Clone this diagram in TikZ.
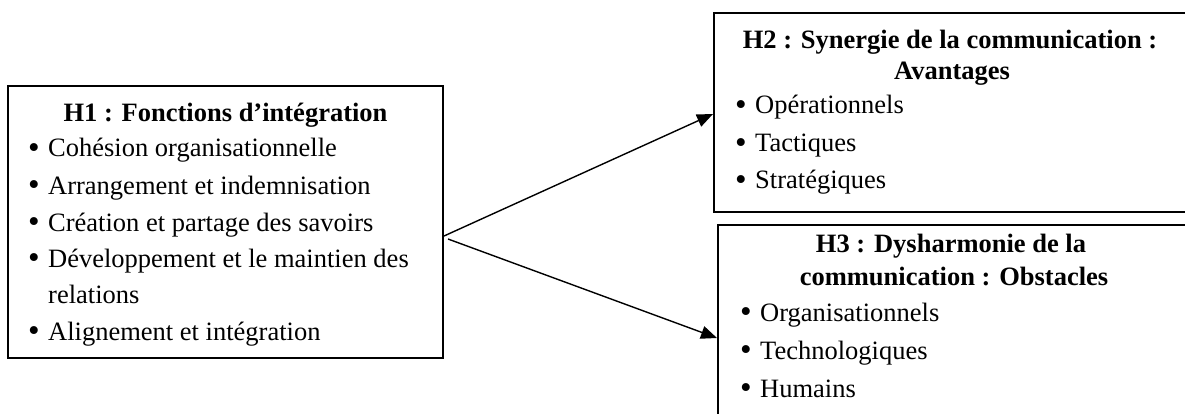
\documentclass[tikz,border=0pt]{standalone}
\usepackage{fontspec}
\setmainfont{Liberation Serif}
\usetikzlibrary{arrows.meta}
\tikzset{
  box/.style={draw=black, line width=2pt, inner sep=0pt, rectangle},
  ttl/.style={anchor=base, inner sep=0pt, font=\bfseries},
  itm/.style={anchor=base west, inner sep=0pt},
  arr/.style={line width=1.4pt, -{Triangle[length=16pt,width=13pt]}},
}
\newcommand{\bul}{\makebox[18pt][l]{\hspace{-2pt}\raisebox{-1.5pt}{\scalebox{1.25}{•}}}}
\begin{document}
\begin{tikzpicture}[x=1pt,y=-1pt]
\fontsize{26.5}{36.5}\selectfont
\useasboundingbox (0,0) rectangle (1185,414);
\clip (0,0) rectangle (1185,414);
% boxes
\node[box, minimum width=435pt, minimum height=272pt] (h1) at (225.5,222) {};
\node[box, minimum width=486pt, minimum height=199pt] (h2) at (957,112.5) {};
\node[box, minimum width=482pt, minimum height=226pt] (h3) at (959,338) {};
% H1 texts
\node[ttl] (t1) at (225.5,122) {H1 : Fonctions d’intégration};
\node[itm] (a1) at (30,157) {\bul Cohésion organisationnelle};
\node[itm] (a2) at (30,194) {\bul Arrangement et indemnisation};
\node[itm] (a3) at (30,231) {\bul Création et partage des savoirs};
\node[itm] (a4) at (30,267) {\bul Développement et le maintien des};
\node[itm] (a5) at (48,303) {relations};
\node[itm] (a6) at (30,340) {\bul Alignement et intégration};
% H2 texts
\node[ttl] (t2a) at (950,49) {H2 : Synergie de la communication :};
\node[ttl] (t2b) at (952,80) {Avantages};
\node[itm] (b1) at (737,114) {\bul Opérationnels};
\node[itm] (b2) at (737,152) {\bul Tactiques};
\node[itm] (b3) at (737,189) {\bul Stratégiques};
% H3 texts
\node[ttl] (t3a) at (951,252) {H3 : Dysharmonie de la};
\node[ttl] (t3b) at (954,285) {communication : Obstacles};
\node[itm] (c1) at (742,321) {\bul Organisationnels};
\node[itm] (c2) at (742,359) {\bul Technologiques};
\node[itm] (c3) at (742,397) {\bul Humains};
% arrows
\draw[arr] ([yshift=-14pt]h1.east) -- ([yshift=-1.5pt]h2.west);
\draw[arr] ([xshift=4pt,yshift=-17pt]h1.east) -- (h3.west);
\end{tikzpicture}
\end{document}
